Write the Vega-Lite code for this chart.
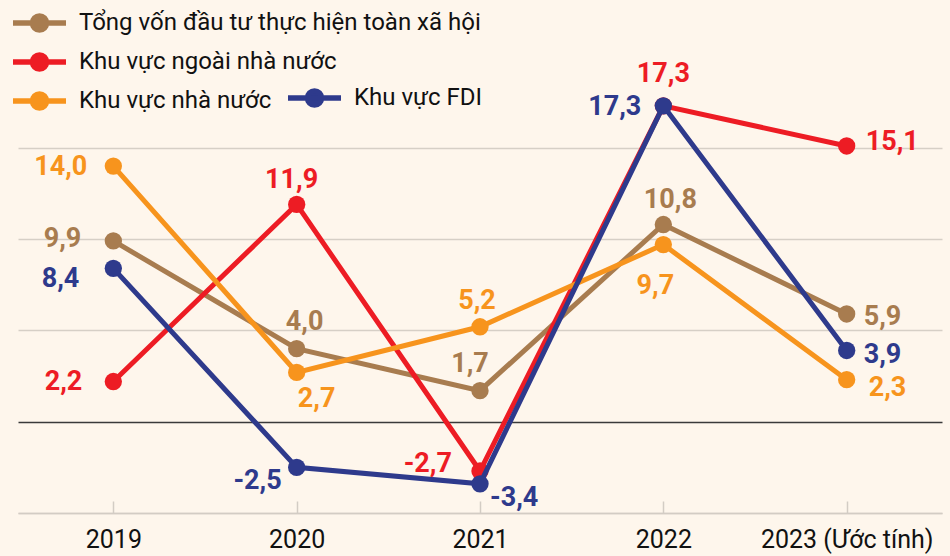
{
  "$schema": "https://vega.github.io/schema/vega-lite/v6.json",
  "width": 924,
  "height": 493,
  "autosize": {"type": "none"},
  "padding": {"left": 18, "top": 20, "right": 8, "bottom": 43},
  "background": "#FEF6EC",
  "config": {
    "view": {"stroke": null},
    "locale": {"number": {"decimal": ",", "thousands": ".", "grouping": [3], "currency": ["", ""], "minus": "-"}}
  },
  "datasets": {
    "d": [
      {"series": "Tổng vốn đầu tư thực hiện toàn xã hội", "year": "2019", "value": 9.9},
      {"series": "Tổng vốn đầu tư thực hiện toàn xã hội", "year": "2020", "value": 4.0},
      {"series": "Tổng vốn đầu tư thực hiện toàn xã hội", "year": "2021", "value": 1.7},
      {"series": "Tổng vốn đầu tư thực hiện toàn xã hội", "year": "2022", "value": 10.8},
      {"series": "Tổng vốn đầu tư thực hiện toàn xã hội", "year": "2023", "value": 5.9},
      {"series": "Khu vực ngoài nhà nước", "year": "2019", "value": 2.2},
      {"series": "Khu vực ngoài nhà nước", "year": "2020", "value": 11.9},
      {"series": "Khu vực ngoài nhà nước", "year": "2021", "value": -2.7},
      {"series": "Khu vực ngoài nhà nước", "year": "2022", "value": 17.3},
      {"series": "Khu vực ngoài nhà nước", "year": "2023", "value": 15.1},
      {"series": "Khu vực nhà nước", "year": "2019", "value": 14.0},
      {"series": "Khu vực nhà nước", "year": "2020", "value": 2.7},
      {"series": "Khu vực nhà nước", "year": "2021", "value": 5.2},
      {"series": "Khu vực nhà nước", "year": "2022", "value": 9.7},
      {"series": "Khu vực nhà nước", "year": "2023", "value": 2.3},
      {"series": "Khu vực FDI", "year": "2019", "value": 8.4},
      {"series": "Khu vực FDI", "year": "2020", "value": -2.5},
      {"series": "Khu vực FDI", "year": "2021", "value": -3.4},
      {"series": "Khu vực FDI", "year": "2022", "value": 17.3},
      {"series": "Khu vực FDI", "year": "2023", "value": 3.9}
    ]
  },
  "data": {"name": "d"},
  "encoding": {
    "x": {
      "field": "year", "type": "ordinal",
      "scale": {"type": "point", "padding": 0.52},
      "axis": {
        "title": null, "labelAngle": 0, "grid": false,
        "domainColor": "#D3CCC4", "domainWidth": 1.5,
        "tickColor": "#D3CCC4", "tickWidth": 1.5, "tickSize": -12,
        "labelPadding": 26,
        "labelFont": "Roboto", "labelFontSize": 25, "labelColor": "#111111",
        "labelExpr": "datum.label == '2023' ? '2023 (Ước tính)' : datum.label"
      }
    },
    "y": {
      "field": "value", "type": "quantitative",
      "scale": {"domain": [-5, 22], "nice": false, "zero": false},
      "axis": {
        "title": null, "labels": false, "ticks": false, "domain": false,
        "values": [-5, 0, 5, 10, 15], "grid": true, "gridWidth": 1.5,
        "gridColor": {"condition": {"test": "datum.value === 0", "value": "#3A3A3A"}, "value": "#D6CFC6"}
      }
    }
  },
  "layer": [
    {
      "transform": [{"filter": "datum.series != 'Khu vực FDI'"}],
      "encoding": {
        "color": {
          "field": "series", "type": "nominal",
          "scale": {"domain": ["Tổng vốn đầu tư thực hiện toàn xã hội", "Khu vực ngoài nhà nước", "Khu vực nhà nước"], "range": ["#A87C4F", "#ED1C24", "#F7941D"]},
          "legend": {
            "orient": "none", "legendX": 8.5, "legendY": -10, "title": null, "padding": 0,
            "symbolType": "M-2.65,0H2.65M-0.7,0A0.7,0.7 0 1,0 0.7,0A0.7,0.7 0 1,0 -0.7,0Z",
            "symbolSize": 400, "symbolStrokeWidth": 5.5,
            "labelFont": "Roboto", "labelFontSize": 24, "labelColor": "#111111",
            "labelLimit": 0, "labelOffset": 26.5, "rowPadding": 3
          }
        }
      },
      "layer": [
        {"mark": {"type": "line", "strokeWidth": 5}},
        {"mark": {"type": "point", "filled": true, "size": 300, "opacity": 1}}
      ]
    },
    {
      "transform": [{"filter": "datum.series == 'Khu vực FDI'"}],
      "encoding": {
        "color": {
          "field": "series", "type": "nominal",
          "scale": {"domain": ["Khu vực FDI"], "range": ["#2E3A8C"]},
          "legend": {
            "orient": "none", "legendX": 283.5, "legendY": 65, "title": null, "padding": 0,
            "symbolType": "M-2.65,0H2.65M-0.7,0A0.7,0.7 0 1,0 0.7,0A0.7,0.7 0 1,0 -0.7,0Z",
            "symbolSize": 400, "symbolStrokeWidth": 5.5,
            "labelFont": "Roboto", "labelFontSize": 24, "labelColor": "#111111",
            "labelLimit": 0, "labelOffset": 26.5
          }
        }
      },
      "layer": [
        {"mark": {"type": "line", "strokeWidth": 5}},
        {"mark": {"type": "point", "filled": true, "size": 300, "opacity": 1}}
      ]
    },
    {
      "transform": [
        {"calculate": "indexof(['Tổng vốn đầu tư thực hiện toàn xã hội', 'Khu vực ngoài nhà nước', 'Khu vực nhà nước', 'Khu vực FDI'], datum.series)", "as": "si"},
        {"calculate": "indexof(['2019', '2020', '2021', '2022', '2023'], datum.year)", "as": "yi"}
      ],
      "mark": {
        "type": "text", "font": "Roboto", "fontWeight": "bold", "fontSize": 27, "baseline": "middle",
        "align": {"expr": "[['right','center','center','center','left'],['right','center','right','center','left'],['right','center','center','center','left'],['right','right','left','right','left']][datum.si][datum.yi]"},
        "dx": {"expr": "[[-32,8,-10,7,17],[-31,-5,-28,0,19],[-26,20,-3,-8,22],[-34,-15,10,-22,17]][datum.si][datum.yi]"},
        "dy": {"expr": "[[-2,-27,-27,-25,3],[0,-24,-7,-32,-4],[1,27,-26,41,8],[11,14,14,1,5]][datum.si][datum.yi]"}
      },
      "encoding": {
        "text": {"field": "value", "type": "quantitative", "format": ".1f"},
        "color": {
          "field": "series", "type": "nominal", "legend": null,
          "scale": {"domain": ["Tổng vốn đầu tư thực hiện toàn xã hội", "Khu vực ngoài nhà nước", "Khu vực nhà nước", "Khu vực FDI"], "range": ["#A87C4F", "#ED1C24", "#F7941D", "#2E3A8C"]}
        }
      }
    }
  ],
  "resolve": {"scale": {"color": "independent"}}
}
